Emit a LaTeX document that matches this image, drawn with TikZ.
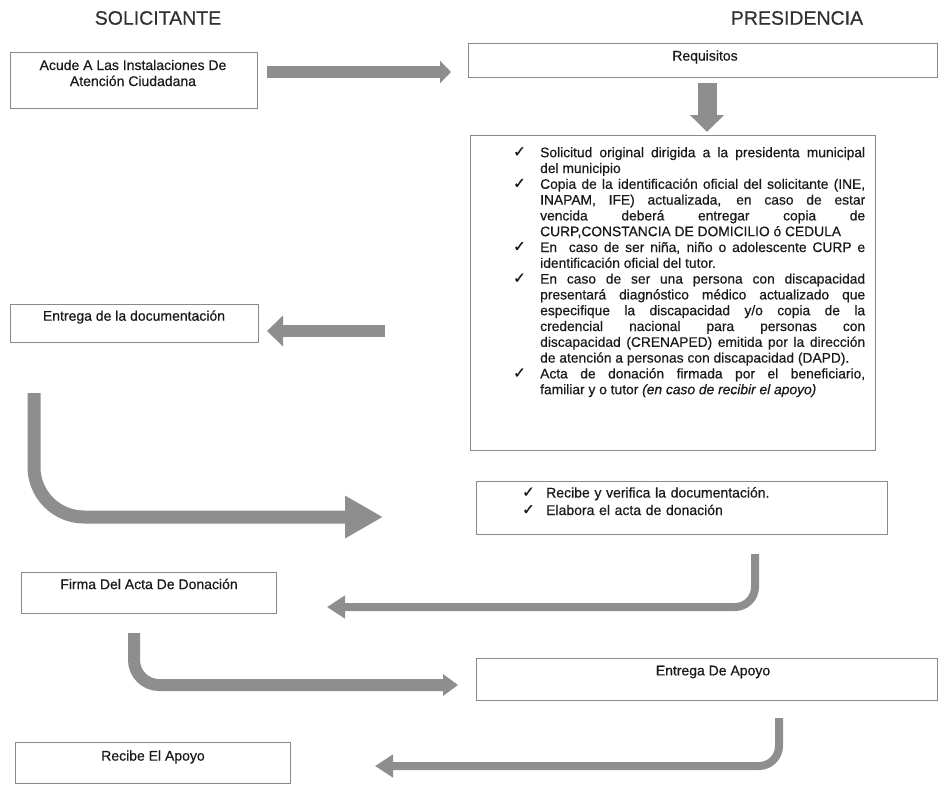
\documentclass[tikz,border=0pt]{standalone}
\usepackage{fontspec}
\setmainfont{Liberation Sans}[FakeBold=0.5]
\newfontfamily\dejavu{DejaVu Sans}[FakeBold=1]
\usetikzlibrary{arrows.meta}
\definecolor{boxline}{HTML}{8A8A8A}
\definecolor{arrgray}{HTML}{8E8E8E}
\definecolor{ink}{HTML}{1A1A1A}
\newcommand{\chkA}{\makebox[27pt][l]{\raisebox{0.5pt}{\dejavu\fontsize{15}{15}\selectfont ✓}}}
\newcommand{\chkB}{\makebox[24pt][l]{\raisebox{0.5pt}{\dejavu\fontsize{15}{15}\selectfont ✓}}}
\begin{document}
\begin{tikzpicture}[x=1pt,y=-1pt,
  box/.style={draw=boxline, line width=1.1pt, fill=white, anchor=north west, inner sep=0pt},
  boxtxt/.style={font=\fontsize{14}{16}\selectfont, text=ink, align=center, inner sep=0pt},
  title/.style={font=\fontsize{19.5}{22}\selectfont, text=ink!90, inner sep=0pt},
  fat/.style={draw=arrgray, line cap=butt}]
\useasboundingbox (0,0) rectangle (938,785);

% titles
\node[title] (tsol) at (158,18) {SOLICITANTE};
\node[title] (tpre) at (797,18) {PRESIDENCIA};

% boxes
\node[box, minimum width=247pt, minimum height=56pt] (acude) at (10,52) {};
\node[boxtxt] (acudet) at (133,73) {Acude A Las Instalaciones De\\Atención Ciudadana};

\node[box, minimum width=469pt, minimum height=34pt] (req) at (468,43) {};
\node[boxtxt] (reqt) at (705,57) {Requisitos};

\node[box, minimum width=405pt, minimum height=315pt] (big) at (470,135) {};
\node[anchor=north west, inner sep=0pt, text width=352pt, align=justify,
      font=\fontsize{13.8}{15.8}\selectfont, text=ink,
      execute at begin node=\setlength{\parindent}{0pt}] (reqlist) at (513,147) {%
\hangindent=27pt\hangafter=1\chkA Solicitud original dirigida a la presidenta municipal\linebreak del municipio\par
\hangindent=27pt\hangafter=1\chkA Copia de la identificación oficial del solicitante (INE,\linebreak INAPAM, IFE) actualizada, en caso de estar\linebreak vencida deberá entregar copia de\linebreak CURP,CONSTANCIA DE DOMICILIO ó CEDULA\par
\hangindent=27pt\hangafter=1\chkA En\ \ caso de ser niña, niño o adolescente CURP e\linebreak identificación oficial del tutor.\par
\hangindent=27pt\hangafter=1\chkA En caso de ser una persona con discapacidad\linebreak presentará diagnóstico médico actualizado que\linebreak especifique la discapacidad y/o copia de la\linebreak credencial nacional para personas con\linebreak discapacidad (CRENAPED) emitida por la dirección\linebreak de atención a personas con discapacidad (DAPD).\par
\hangindent=27pt\hangafter=1\chkA Acta de donación firmada por el beneficiario,\linebreak familiar y o tutor \textit{(en caso de recibir el apoyo)}\par};

\node[box, minimum width=248pt, minimum height=38pt] (doc) at (10,304) {};
\node[boxtxt] (doct) at (134,317) {Entrega de la documentación};

\node[box, minimum width=411pt, minimum height=53pt] (verif) at (476,481) {};
\node[anchor=north west, inner sep=0pt, text width=350pt, align=left,
      font=\fontsize{14}{17.5}\selectfont, text=ink] (veriflist) at (522,487) {%
\chkB Recibe y verifica la documentación.\\
\chkB Elabora el acta de donación};

\node[box, minimum width=255pt, minimum height=41pt] (firma) at (21,572) {};
\node[boxtxt] (firmat) at (149,584) {Firma Del Acta De Donación};

\node[box, minimum width=461pt, minimum height=42pt] (entap) at (476,658) {};
\node[boxtxt] (entapt) at (713,672) {Entrega De Apoyo};

\node[box, minimum width=275pt, minimum height=41pt] (recap) at (15,742) {};
\node[boxtxt] (recapt) at (153,757) {Recibe El Apoyo};

% connector end points
\coordinate (a1s) at (267,72);  \coordinate (a1e) at (451,72);
\coordinate (a2s) at (707,83);  \coordinate (a2e) at (707,132);
\coordinate (a3s) at (385,331); \coordinate (a3e) at (267,331);
\coordinate (a4s) at (34,393);  \coordinate (a4e) at (383,517);
\coordinate (a5s) at (755,554); \coordinate (a5e) at (327,607);
\coordinate (a6s) at (134,633); \coordinate (a6e) at (458,685);
\coordinate (a7s) at (779,718); \coordinate (a7e) at (375,766);

% arrows
\draw[fat, line width=12pt, -{Triangle[length=11pt,width=22pt]}] (a1s) -- (a1e);
\draw[fat, line width=19pt, -{Triangle[length=17pt,width=33pt]}] (a2s) -- (a2e);
\draw[fat, line width=12pt, -{Triangle[length=16pt,width=30pt]}] (a3s) -- (a3e);
\draw[fat, line width=13pt, rounded corners=50pt, -{Triangle[length=38pt,width=40pt]}] (a4s) |- (a4e);
\draw[fat, line width=8pt, rounded corners=20pt, -{Triangle[length=18pt,width=22pt]}] (a5s) |- (a5e);
\draw[fat, line width=12pt, rounded corners=25pt, -{Triangle[length=15pt,width=21pt]}] (a6s) |- (a6e);
\draw[fat, line width=8pt, rounded corners=20pt, -{Triangle[length=18pt,width=22pt]}] (a7s) |- (a7e);
\end{tikzpicture}
\end{document}
